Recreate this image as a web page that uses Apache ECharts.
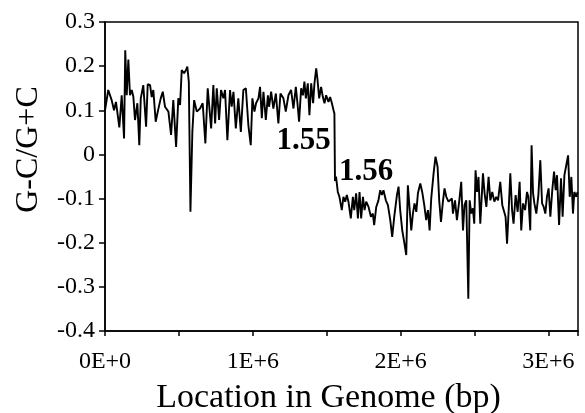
<!DOCTYPE html>
<html>
<head>
<meta charset="utf-8">
<script src="https://cdn.jsdelivr.net/npm/echarts@6/dist/echarts.min.js"></script>
<style>html,body{margin:0;padding:0;background:#fff}#c{width:585px;height:413px}</style>
</head>
<body>
<div id="c"></div>
<script>
// Genome location of each window (kb)
const locationKb = [
0,22,45,61,74,83,97,113,129,137,147,158,169,181,192,203,219,232,242,259,278,289,305,316,327,343,357,377,391,406,429,447,462,481,496,508,519,535,548,557,567,578,591,603,621,643,661,679,695,706,718,733,745,756,772,785,801,812,828,846,857,869,885,902,919,936,953,970,986,997,1011,1022,1038,1049,1061,1072,1088,1102,1110,1124,1139,1156,1173,1187,1207,1223,1241,1259,1275,1291,1302,1313,1327,1339,1349,1359,1372,1383,1395,1408,1417,1429,1437,1449,1462,1474,1485,1496,1512,1523,1535,1546,1552,1556,1563,1575,
1586,1602,1613,1625,1636,1647,1663,1677,1686,1699,1711,1722,1733,1745,1756,1767,1783,1799,1812,1821,1835,1850,1862,1873,1884,1900,1914,1930,1943,1957,1975,1986,1997,2011,2024,2038,2049,2060,2072,2083,2094,2106,2117,2133,2146,2160,2173,2185,2196,2207,2223,2236,2250,2261,2273,2286,2297,2309,2324,2336,2347,2354,2368,2381,2397,2410,2422,2432,2444,2458,2467,2478,2489,2498,2507,2517,2527,2539,2557,2568,2580,2595,2607,2620,2634,2647,2659,2674,2688,2701,2710,2720,2731,2742,2754,2764,2778,2792,2805,2816,2828,2842,2855,2864,2877,2886,2896,2905,2918,2932,2945,2957,2968,2979,2990,3001,3013,3026,3038,3049,3058,3072,3085,3096,3108,3121,3133,3144,3155,3166,3175,3189,3197
];
// GC skew (G-C)/(G+C) of each window
const gcSkew = [
0.10,0.146,0.123,0.1,0.119,0.097,0.061,0.134,0.036,0.236,0.134,0.215,0.134,0.146,0.13,0.078,0.116,0.021,0.127,0.157,0.063,0.159,0.157,0.13,0.146,0.074,0.097,0.127,0.142,0.108,0.097,0.044,0.123,0.017,0.127,0.112,0.191,0.184,0.191,0.199,0.165,-0.13,0.051,0.123,0.097,0.104,0.116,0.025,0.15,0.146,0.059,0.157,0.07,0.15,0.078,0.146,0.127,0.146,0.032,0.146,0.108,0.142,0.059,0.127,0.051,0.146,0.15,0.066,0.021,0.127,0.097,0.116,0.127,0.153,0.082,0.142,0.078,0.134,0.108,0.142,0.104,0.138,0.07,0.138,0.127,0.097,0.134,0.146,0.104,0.153,0.116,0.074,0.15,0.134,0.165,0.127,0.161,0.089,0.161,0.116,0.161,0.195,0.172,0.127,0.153,0.13,0.116,0.134,0.119,0.13,0.116,0.1,0.093,-0.06,-0.05,-0.085,
-0.096,-0.126,-0.096,-0.107,-0.092,-0.107,-0.145,-0.096,-0.126,-0.088,-0.145,-0.085,-0.145,-0.096,-0.126,-0.107,-0.119,-0.141,-0.134,-0.16,-0.119,-0.104,-0.081,-0.092,-0.081,-0.104,-0.115,-0.149,-0.187,-0.141,-0.092,-0.073,-0.126,-0.172,-0.198,-0.228,-0.07,-0.119,-0.172,-0.134,-0.111,-0.13,-0.088,-0.066,-0.085,-0.115,-0.149,-0.126,-0.172,-0.1,-0.043,-0.005,-0.028,-0.104,-0.153,-0.107,-0.077,-0.096,-0.107,-0.11,-0.1,-0.134,-0.104,-0.149,-0.104,-0.062,-0.172,-0.115,-0.104,-0.327,-0.104,-0.134,-0.122,-0.157,-0.036,-0.085,-0.051,-0.157,-0.043,-0.088,-0.119,-0.051,-0.104,-0.085,-0.107,-0.096,-0.104,-0.062,-0.115,-0.119,-0.141,-0.202,-0.126,-0.043,-0.126,-0.157,-0.092,-0.13,-0.062,-0.172,-0.111,-0.126,-0.085,-0.096,-0.172,0.021,-0.088,-0.111,-0.134,-0.092,-0.013,-0.111,-0.119,-0.134,-0.096,-0.077,-0.141,-0.081,-0.039,-0.081,-0.047,-0.16,-0.054,-0.141,-0.047,-0.024,-0.002,-0.096,-0.051,-0.134,-0.085,-0.096,-0.085
];
const xTickLabels = ['0E+0','1E+6','2E+6','3E+6'];
const annotationText = ['1.55','1.56'];
const annotationLocKb = [1344,1767];
const annotationSkew = [0.030,-0.040];

const serif = '"Liberation Serif","DejaVu Serif",serif';
const chart = echarts.init(document.getElementById('c'), null, {renderer:'canvas'});
chart.setOption({
  animation:false,
  backgroundColor:'#fff',
  grid:{left:105,right:7,top:22,bottom:82,outerBoundsMode:'none',containLabel:false,show:true,borderColor:'#000',borderWidth:1.5,backgroundColor:'transparent'},
  xAxis:{
    type:'value',min:0,max:3200000,interval:500000,
    name:'Location in Genome (bp)',nameLocation:'middle',nameGap:50,
    nameTextStyle:{fontFamily:serif,fontSize:34,color:'#000',padding:[0,26,0,0]},
    axisLine:{show:true,onZero:false,lineStyle:{color:'#000',width:1.5}},
    axisTick:{show:true,inside:false,length:5,lineStyle:{color:'#000',width:1.5}},
    axisLabel:{margin:19,fontFamily:serif,fontSize:24,color:'#000',
      formatter:v=>{const i=Math.round(v/1000000);return (Math.abs(v-i*1000000)<1 && i<xTickLabels.length)?xTickLabels[i]:'';}},
    splitLine:{show:false}
  },
  yAxis:{
    type:'value',min:-0.4,max:0.3,interval:0.1,
    name:'G-C/G+C',nameLocation:'middle',nameGap:60,
    nameTextStyle:{fontFamily:serif,fontSize:32,color:'#000',padding:[0,0,0,54]},
    axisLine:{show:true,onZero:false,lineStyle:{color:'#000',width:1.5}},
    axisTick:{show:true,inside:false,length:6,lineStyle:{color:'#000',width:1.5}},
    axisLabel:{margin:10,fontFamily:serif,fontSize:24,color:'#000',
      formatter:v=>{const r=Math.round(v*10)/10;return r===0?'0':r.toFixed(1);}},
    splitLine:{show:false}
  },
  series:[
    {type:'line',data:locationKb.map((k,i)=>[k*1000,gcSkew[i]]),showSymbol:false,symbol:'none',
     lineStyle:{color:'#000',width:1.9},clip:true},
    {type:'scatter',symbolSize:0,silent:true,itemStyle:{opacity:1},
     data:annotationText.map((t,i)=>({value:[annotationLocKb[i]*1000,annotationSkew[i]],name:t})),
     label:{show:true,position:'inside',formatter:p=>p.name,fontFamily:serif,fontWeight:'bold',fontSize:31,color:'#000',opacity:1}}
  ]
});
</script>
</body>
</html>
